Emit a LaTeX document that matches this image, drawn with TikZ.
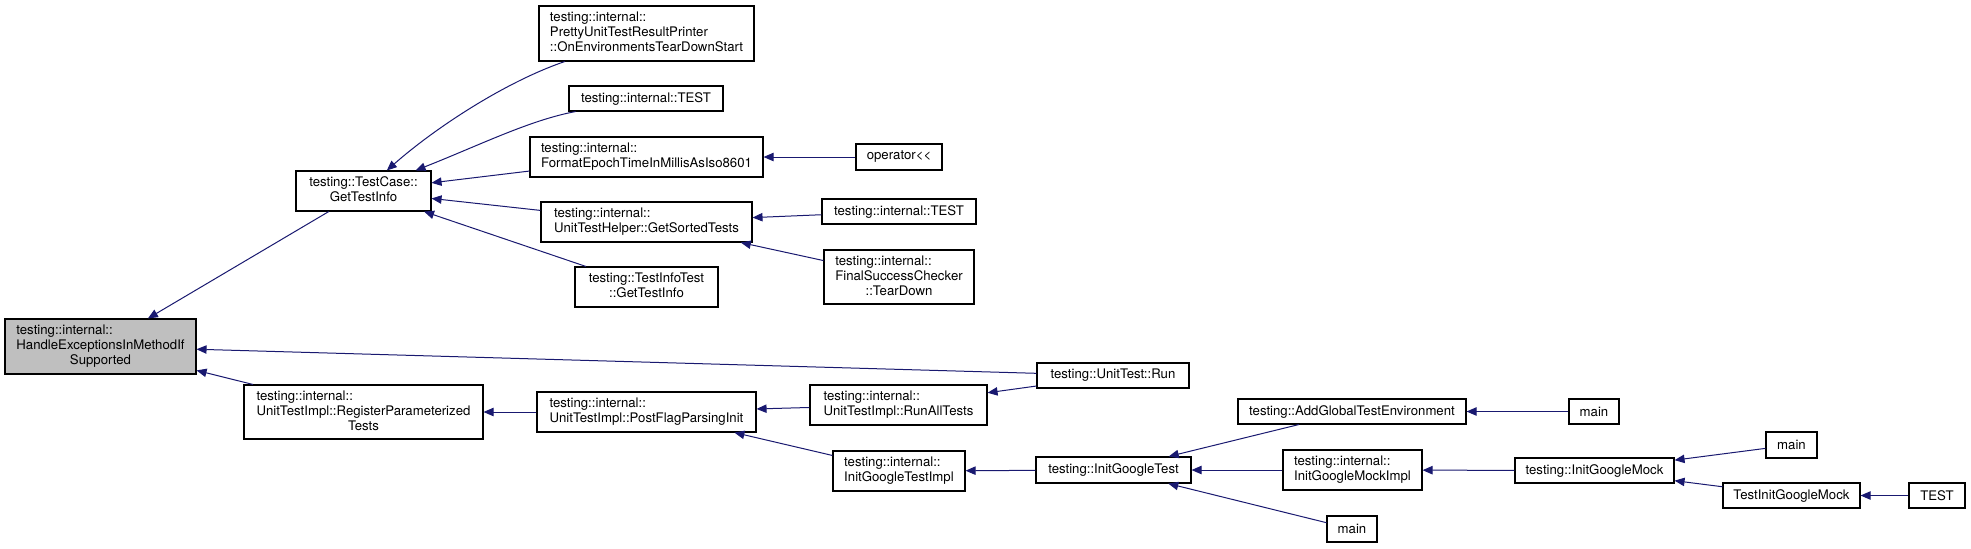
\documentclass[tikz,border=0pt]{standalone}
\usepackage{fontspec}
\setmainfont{TeX Gyre Heros}
\usepackage{tikz}
\usetikzlibrary{arrows.meta}
\definecolor{linkblue}{HTML}{191970}
\definecolor{current}{HTML}{BFBFBF}
\newcommand{\fnlines}[2]{\begin{tabular}{@{}l@{}}#1\\\multicolumn{1}{@{}c@{}}{#2}\end{tabular}}
\tikzset{
  fn/.style={draw=black,fill=white,line width=0.55pt,inner sep=0pt,font=\fontsize{6.6}{7.5}\selectfont},
  wh/.style 2 args={minimum width=#1*0.5pt,minimum height=#2*0.5pt},
  callarr/.style={-{Triangle[length=5pt,width=4.2pt]},line width=0.5pt,color=linkblue}
}
\begin{document}
\begin{tikzpicture}[x=0.5pt,y=-0.5pt]
  \path[fill=white,use as bounding box] (0,0) rectangle (1971,548);
  \node[fn,fill=current,wh={191}{55}] (handle) at (100.5,346.5) {\fnlines{testing::internal::\\HandleExceptionsInMethodIf}{Supported}};
  \node[fn,wh={135}{40}] (tcgti) at (363.5,191) {\fnlines{testing::TestCase::}{GetTestInfo}};
  \node[fn,wh={239}{54}] (regparam) at (363.5,412) {\fnlines{testing::internal::\\UnitTestImpl::RegisterParameterized}{Tests}};
  \node[fn,wh={215}{55}] (pretty) at (646.5,33.5) {\fnlines{testing::internal::\\PrettyUnitTestResultPrinter}{::OnEnvironmentsTearDownStart}};
  \node[fn,wh={154}{25}] (itest) at (646,98.5) {testing::internal::TEST};
  \node[fn,wh={233}{40}] (fmtepoch) at (646.5,157) {\fnlines{testing::internal::}{FormatEpochTimeInMillisAsIso8601}};
  \node[fn,wh={211}{40}] (sorted) at (646.5,222) {\fnlines{testing::internal::}{UnitTestHelper::GetSortedTests}};
  \node[fn,wh={143}{40}] (tititest) at (646.5,287) {\fnlines{testing::TestInfoTest}{::GetTestInfo}};
  \node[fn,wh={219}{40}] (postflag) at (646.5,412) {\fnlines{testing::internal::}{UnitTestImpl::PostFlagParsingInit}};
  \node[fn,wh={86}{26}] (oper) at (899,157) {operator<\kern0pt<};
  \node[fn,wh={154}{25}] (itestb) at (899,211.5) {testing::internal::TEST};
  \node[fn,wh={150}{54}] (finalsucc) at (899,277) {\fnlines{testing::internal::\\FinalSuccessChecker}{::TearDown}};
  \node[fn,wh={177}{40}] (runall) at (898.5,405) {\fnlines{testing::internal::}{UnitTestImpl::RunAllTests}};
  \node[fn,wh={132}{40}] (igtimpl) at (899,471) {\fnlines{testing::internal::}{InitGoogleTestImpl}};
  \node[fn,wh={152}{25}] (run) at (1113,375.5) {testing::UnitTest::Run};
  \node[fn,wh={155}{26}] (igt) at (1113.5,470) {testing::InitGoogleTest};
  \node[fn,wh={228}{25}] (addglobal) at (1352,411.5) {testing::AddGlobalTestEnvironment};
  \node[fn,wh={139}{40}] (igmimpl) at (1352.5,470) {\fnlines{testing::internal::}{InitGoogleMockImpl}};
  \node[fn,wh={50}{26}] (mainc) at (1352,529) {main};
  \node[fn,wh={50}{25}] (maina) at (1594,411.5) {main};
  \node[fn,wh={159}{25}] (igm) at (1594.5,470.5) {testing::InitGoogleMock};
  \node[fn,wh={51}{26}] (mainb) at (1791.5,445) {main};
  \node[fn,wh={137}{25}] (tigm) at (1791.5,495.5) {TestInitGoogleMock};
  \node[fn,wh={56}{25}] (testc) at (1937,495.5) {TEST};
  \draw[callarr] (tcgti) -- (handle); \draw[callarr] (run) -- (handle); \draw[callarr] (regparam) -- (handle);
  \draw[callarr] (pretty) .. controls (505,82) and (435,128) .. (tcgti);
  \draw[callarr] (itest) .. controls (530,120) and (480,145) .. (tcgti);
  \draw[callarr] (fmtepoch) -- (tcgti); \draw[callarr] (sorted) -- (tcgti); \draw[callarr] (tititest) -- (tcgti);
  \draw[callarr] (oper) -- (fmtepoch);
  \draw[callarr] (itestb) -- (sorted); \draw[callarr] (finalsucc) -- (sorted);
  \draw[callarr] (postflag) -- (regparam);
  \draw[callarr] (runall) -- (postflag); \draw[callarr] (igtimpl) -- (postflag);
  \draw[callarr] (run) -- (runall);
  \draw[callarr] (igt) -- (igtimpl);
  \draw[callarr] (addglobal) -- (igt); \draw[callarr] (igmimpl) -- (igt); \draw[callarr] (mainc) -- (igt);
  \draw[callarr] (maina) -- (addglobal);
  \draw[callarr] (igm) -- (igmimpl);
  \draw[callarr] (mainb) -- (igm); \draw[callarr] (tigm) -- (igm);
  \draw[callarr] (testc) -- (tigm);
\end{tikzpicture}
\end{document}
